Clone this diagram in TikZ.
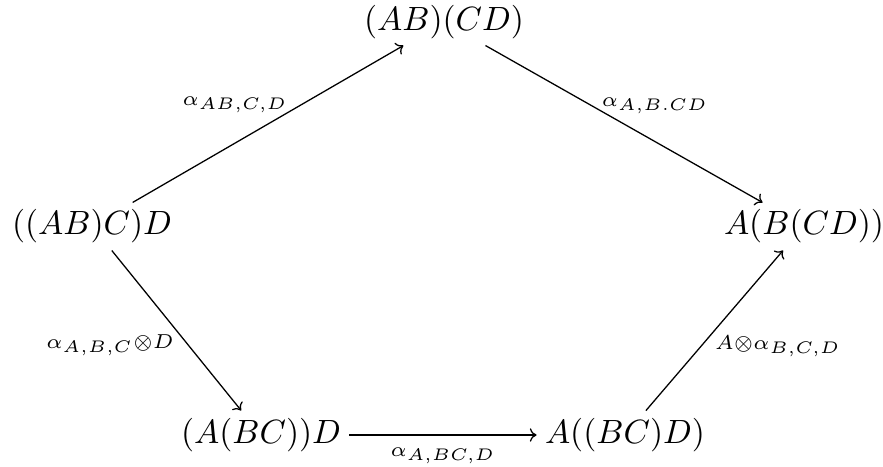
\documentclass[tikz,border=0pt]{standalone}
\usepackage{amsmath}
\usetikzlibrary{arrows.meta}
\DeclareMathSizes{6.5}{6.5}{4.3}{3.2}
\begin{document}
\begin{tikzpicture}[x=0.2973pt,y=-0.2973pt,
  obj/.style={inner sep=1.3pt},
  lab/.style={inner sep=0pt, font=\fontsize{6.5}{8}\selectfont},
  mor/.style={-{To[length=2pt,width=4pt]}, line width=0.38pt, shorten <=1pt, shorten >=1pt}]
\useasboundingbox (0,0) rectangle (883,466);
\node[obj] (T)  at (444,22)  {$(AB)(CD)$};
\node[obj] (L)  at (92,226)  {$((AB)C)D$};
\node[obj] (R)  at (804,226) {$A(B(CD))$};
\node[obj] (BL) at (261,435) {$(A(BC))D$};
\node[obj] (BR) at (625,435) {$A((BC)D)$};
\draw[mor] (L) -- (T);
\draw[mor] (T) -- (R);
\draw[mor] (L) -- (BL);
\draw[mor] (BL) -- (BR);
\draw[mor] (BR) -- (R);
\node[lab] (l1) at (235,105) {$\alpha_{AB,C,D}$};
\node[lab] (l2) at (655,106) {$\alpha_{A,B.CD}$};
\node[lab] (l3) at (110,345) {$\alpha_{A,B,C}{\otimes}D$};
\node[lab] (l4) at (778,346) {$A{\otimes}\alpha_{B,C,D}$};
\node[lab] (l5) at (443,456) {$\alpha_{A,BC,D}$};
\end{tikzpicture}
\end{document}
